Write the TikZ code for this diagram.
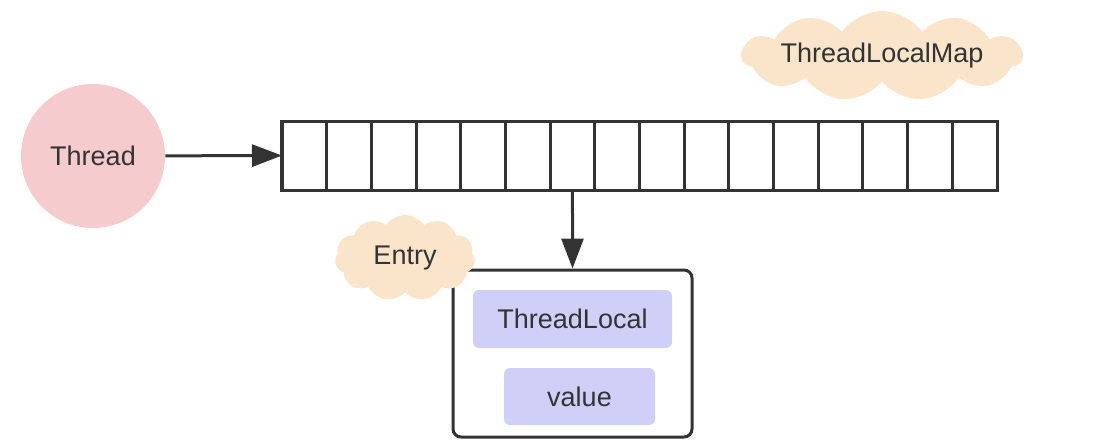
\documentclass[tikz,border=0pt]{standalone}
\usepackage{fontspec}
\setmainfont{Liberation Sans}
\usetikzlibrary{arrows.meta}
\usetikzlibrary{shapes.symbols}
\definecolor{inkgray}{HTML}{333333}
\definecolor{threadpink}{HTML}{F5CBCE}
\definecolor{cloudpeach}{HTML}{FAE5CB}
\definecolor{slotlilac}{HTML}{CFCFF7}
\tikzset{
  label text/.style={text=inkgray, font=\fontsize{13.5}{16}\selectfont},
  cell/.style={draw=inkgray, line width=1.5pt, minimum width=22.35pt, minimum height=34.5pt, inner sep=0, outer sep=0},
  puff/.style={cloud, cloud puffs=11, cloud puff arc=110, cloud ignores aspect, fill=cloudpeach, draw=none, inner sep=0, label text},
  slot/.style={fill=slotlilac, rounded corners=3pt, inner sep=0, label text},
  link/.style={inkgray, line width=1.5pt, -{Triangle[length=15pt,width=11pt]}}
}

\begin{document}
\begin{tikzpicture} [x=0.5pt, y=-0.5pt]
\useasboundingbox (0,0) rectangle (1112,440);

\node[circle, fill=threadpink, minimum size=72pt, label text] (thread) at (93,156) {Thread};

% the map's table
\foreach \k in {1,...,16} {
  \node[cell] (cell\k) at ({282 + (\k - 0.5)*44.69}, 155.5) {};
}

\node[draw=inkgray, line width=1.5pt, rounded corners=4pt, minimum width=119.5pt, minimum height=83.5pt, inner sep=0] (entry) at (572.5,353.5) {};
\node[slot, minimum width=99.5pt, minimum height=29pt] (tl) at (572.5,319) {ThreadLocal};
\node[slot, minimum width=75.5pt, minimum height=28.5pt] (val) at (579.5,396.5) {value};

\node[puff, minimum width=126pt, minimum height=45pt] (mapcloud) at (882,56) {ThreadLocalMap};
\node[puff, minimum width=70pt, minimum height=43pt] (entrycloud) at (405,258) {Entry};

\draw[link] (thread) -- (cell1);
\draw[link] (cell7.south) -- (entry.north);
\end{tikzpicture}
\end{document}
